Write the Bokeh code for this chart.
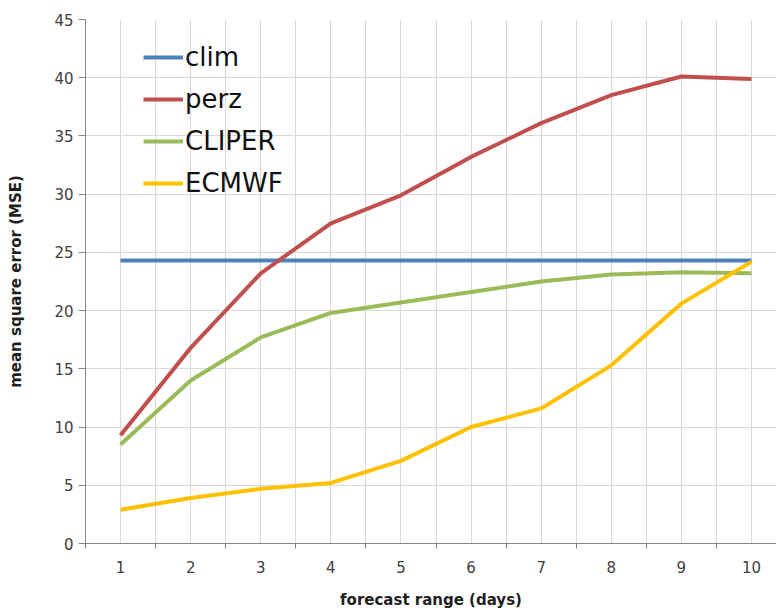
from bokeh.plotting import figure
from bokeh.models import FixedTicker, Range1d, Legend, LegendItem
from bokeh.embed import file_html
from bokeh.resources import INLINE

days = [1, 2, 3, 4, 5, 6, 7, 8, 9, 10]
clim = [24.3, 24.3, 24.3, 24.3, 24.3, 24.3, 24.3, 24.3, 24.3, 24.3]
perz = [9.3, 16.8, 23.2, 27.5, 29.9, 33.2, 36.1, 38.5, 40.1, 39.9]
cliper = [8.5, 14.0, 17.7, 19.8, 20.7, 21.6, 22.5, 23.1, 23.3, 23.2]
ecmwf = [2.9, 3.9, 4.7, 5.2, 7.1, 10.0, 11.6, 15.3, 20.6, 24.2]
series_names = ["clim", "perz", "CLIPER", "ECMWF"]
colors = ["#4F81BD", "#C0504D", "#9BBB59", "#FFC000"]
y_ticks = [0, 5, 10, 15, 20, 25, 30, 35, 40, 45]
boundaries = [0.5, 1.5, 2.5, 3.5, 4.5, 5.5, 6.5, 7.5, 8.5, 9.5, 10.5]

FONT = "DejaVu Sans"

p = figure(width=776, height=613, output_backend="svg", toolbar_location=None,
           x_range=Range1d(0.5, 10.357), y_range=Range1d(0, 45),
           frame_width=691, frame_height=524,
           min_border_left=85, min_border_top=19, min_border_right=0, min_border_bottom=70)
p.outline_line_color = None
p.background_fill_color = "white"
p.border_fill_color = "white"

renderers = []
for name, ys, c in zip(series_names, [clim, perz, cliper, ecmwf], colors):
    r = p.line(days, ys, line_color=c, line_width=4)
    renderers.append((name, r))

# x axis
xt = FixedTicker(ticks=days, minor_ticks=boundaries)
p.xaxis.ticker = xt
p.xaxis.major_tick_out = 0
p.xaxis.major_tick_in = 0
p.xaxis.minor_tick_out = 5
p.xaxis.minor_tick_in = 0
p.xaxis.minor_tick_line_color = "#868686"
p.xaxis.axis_line_color = "#868686"
p.xaxis.major_label_standoff = 12
p.xaxis.major_label_text_font = FONT
p.xaxis.major_label_text_font_size = "15px"
p.xaxis.major_label_text_color = "#404040"
p.xaxis.axis_label = "forecast range (days)"
p.xaxis.axis_label_text_font = FONT
p.xaxis.axis_label_text_font_size = "15px"
p.xaxis.axis_label_text_font_style = "bold"
p.xaxis.axis_label_text_color = "#1f1f1f"
p.xaxis.axis_label_standoff = 15

# y axis
p.yaxis.ticker = FixedTicker(ticks=y_ticks)
p.yaxis.major_tick_out = 7
p.yaxis.major_tick_in = 0
p.yaxis.major_tick_line_color = "#868686"
p.yaxis.minor_tick_line_color = None
p.yaxis.axis_line_color = "#868686"
p.yaxis.major_label_standoff = 5
p.yaxis.major_label_text_font = FONT
p.yaxis.major_label_text_font_size = "15px"
p.yaxis.major_label_text_color = "#404040"
p.yaxis.axis_label = "mean square error (MSE)"
p.yaxis.axis_label_text_font = FONT
p.yaxis.axis_label_text_font_size = "15px"
p.yaxis.axis_label_text_font_style = "bold"
p.yaxis.axis_label_text_color = "#1f1f1f"
p.yaxis.axis_label_standoff = 26

# grids
p.xgrid.ticker = xt
p.xgrid.grid_line_color = "#d9d9d9"
p.xgrid.minor_grid_line_color = "#d9d9d9"
p.ygrid.ticker = FixedTicker(ticks=y_ticks)
p.ygrid.grid_line_color = "#d9d9d9"

legend = Legend(items=[LegendItem(label=n, renderers=[r]) for n, r in renderers],
                location=(58, 345))
legend.background_fill_alpha = 0
legend.border_line_alpha = 0
legend.padding = 0
legend.margin = 0
legend.glyph_width = 40
legend.glyph_height = 30
legend.label_height = 30
legend.spacing = 12
legend.label_standoff = 2
legend.label_text_font = FONT
legend.label_text_font_size = "26px"
legend.label_text_color = "#111111"
p.add_layout(legend)

open("out.html", "w").write(file_html(p, INLINE))
